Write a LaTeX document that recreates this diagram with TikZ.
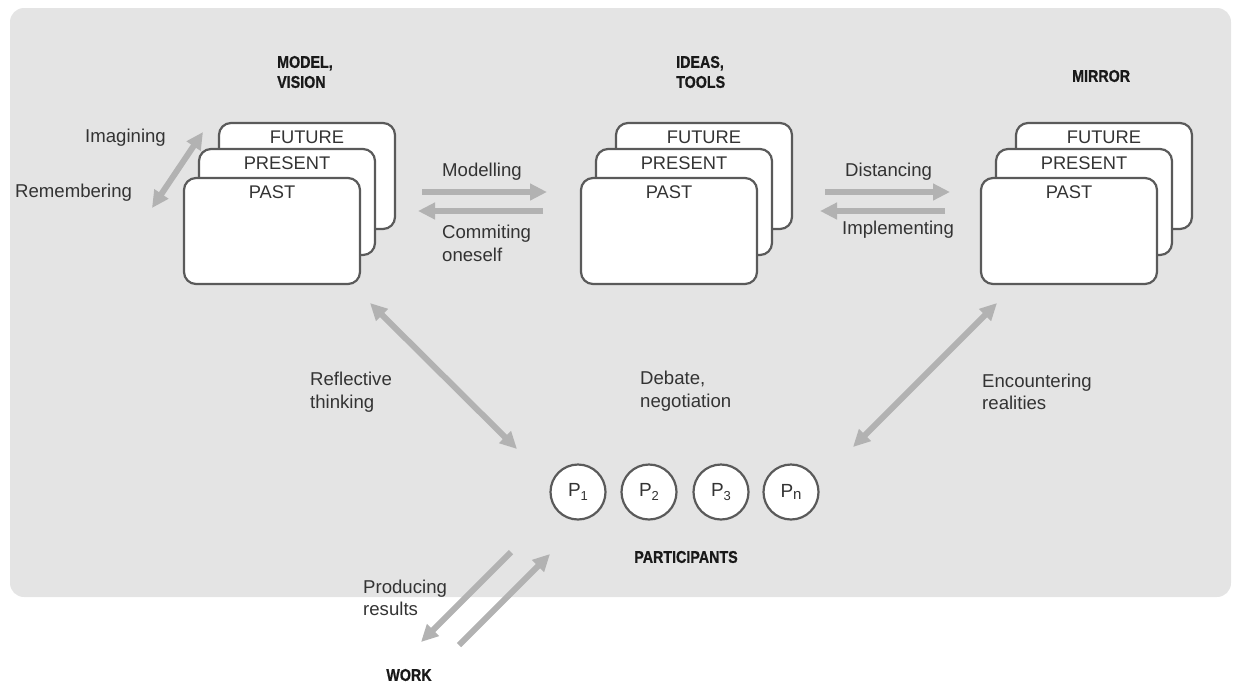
\documentclass[tikz,border=0pt]{standalone}
\usepackage{fontspec}
\setmainfont{Liberation Sans}
\newfontfamily\condfont[FakeStretch=0.84, BoldFeatures={FakeBold=0.8}]{Liberation Sans}
\usetikzlibrary{arrows.meta}
\definecolor{bg}{HTML}{E4E4E4}
\definecolor{edge}{HTML}{5A5A5A}
\definecolor{arr}{HTML}{B2B2B2}
\definecolor{txt}{HTML}{333333}
\newcommand\mystack[2]{%
  \begin{scope}[shift={(#2)}]
    \node[card] (#1f) at (35,-55) {};
    \node[cardtxt] (#1ft) at ([yshift=-15pt]#1f.north) {FUTURE};
    \node[card] (#1r) at (15,-29) {};
    \node[cardtxt] (#1rt) at ([yshift=-15pt]#1r.north) {PRESENT};
    \node[card] (#1p) at (0,0) {};
    \node[cardtxt] (#1pt) at ([yshift=-15pt]#1p.north) {PAST};
  \end{scope}}
\begin{document}
\begin{tikzpicture}[x=1pt,y=-1pt,
  card/.style={draw=edge, line width=2.2pt, fill=white, rounded corners=12pt,
    minimum width=176pt, minimum height=106pt, inner sep=0pt},
  cardtxt/.style={font=\fontsize{18.3}{20}\selectfont, text=txt, inner sep=0pt},
  lbl/.style={font=\fontsize{18.6}{22.5}\selectfont, text=txt, inner sep=0pt, align=left, anchor=west},
  ttl/.style={font=\condfont\bfseries\fontsize{17}{20}\selectfont, text=black!90, inner sep=0pt, align=left, anchor=west},
  part/.style={circle, draw=edge, line width=2.2pt, fill=white, minimum size=55pt,
    inner sep=0pt, font=\fontsize{19}{20}\selectfont, text=txt},
  flow/.style={draw=arr, line width=6pt, -{Triangle[length=17pt,width=16pt]}},
  biflow/.style={draw=arr, line width=6pt, {Triangle[length=17pt,width=16pt]}-{Triangle[length=17pt,width=16pt]}},
]
\useasboundingbox (0,0) rectangle (1233,686);
\fill[bg, rounded corners=14pt] (10,8) rectangle (1231,597);

% stacks
\mystack{l}{272,231}
\mystack{m}{669,231}
\mystack{r}{1069,231}

% titles
\node[ttl] (tmodel) at (277,72) {MODEL,\\VISION};
\node[ttl] (tideas) at (676,72) {IDEAS,\\TOOLS};
\node[ttl] (tmirror) at (1072,76) {MIRROR};
\node[ttl, anchor=center] (tpart) at (686,557) {PARTICIPANTS};
\node[ttl, anchor=center] (twork) at (409,675) {WORK};

% participants
\node[part] (p1) at (578,492) {P\raisebox{-4pt}{\fontsize{13}{13}\selectfont 1}};
\node[part] (p2) at (649,492) {P\raisebox{-4pt}{\fontsize{13}{13}\selectfont 2}};
\node[part] (p3) at (721,492) {P\raisebox{-4pt}{\fontsize{13}{13}\selectfont 3}};
\node[part] (pn) at (791,492) {P\raisebox{-2pt}{\fontsize{15}{15}\selectfont n}};

% labels
\node[lbl] (limag) at (85,138) {Imagining};
\node[lbl] (lrem) at (15,193) {Remembering};
\node[lbl] (lmod) at (442,172) {Modelling};
\node[lbl] (lcom) at (442,243.5) {Commiting\\oneself};
\node[lbl] (ldist) at (845,172) {Distancing};
\node[lbl] (limpl) at (842,230) {Implementing};
\node[lbl] (lrefl) at (310,392) {Reflective\\thinking};
\node[lbl] (ldeb) at (640,391) {Debate,\\negotiation};
\node[lbl] (lenc) at (982,392) {Encountering\\realities};
\node[lbl] (lprod) at (363,598) {Producing\\results};

% connector end points
\coordinate (imA) at (152,208); \coordinate (imB) at (203,132);
\coordinate (moA) at (422,192); \coordinate (moB) at (547,192);
\coordinate (coA) at (543,211); \coordinate (coB) at (418,211);
\coordinate (diA) at (825,192); \coordinate (diB) at (950,192);
\coordinate (ipA) at (945,211); \coordinate (ipB) at (820,211);
\coordinate (reA) at (370,303); \coordinate (reB) at (517,449);
\coordinate (enA) at (853,447); \coordinate (enB) at (997,303);
\coordinate (prA) at (511,552); \coordinate (prB) at (421,642);
\coordinate (wkA) at (459,645); \coordinate (wkB) at (550,554);

\draw[biflow] (imA) -- (imB);
\draw[flow] (moA) -- (moB);
\draw[flow] (coA) -- (coB);
\draw[flow] (diA) -- (diB);
\draw[flow] (ipA) -- (ipB);
\draw[biflow] (reA) -- (reB);
\draw[biflow] (enA) -- (enB);
\draw[flow] (prA) -- (prB);
\draw[flow] (wkA) -- (wkB);
\end{tikzpicture}
\end{document}
